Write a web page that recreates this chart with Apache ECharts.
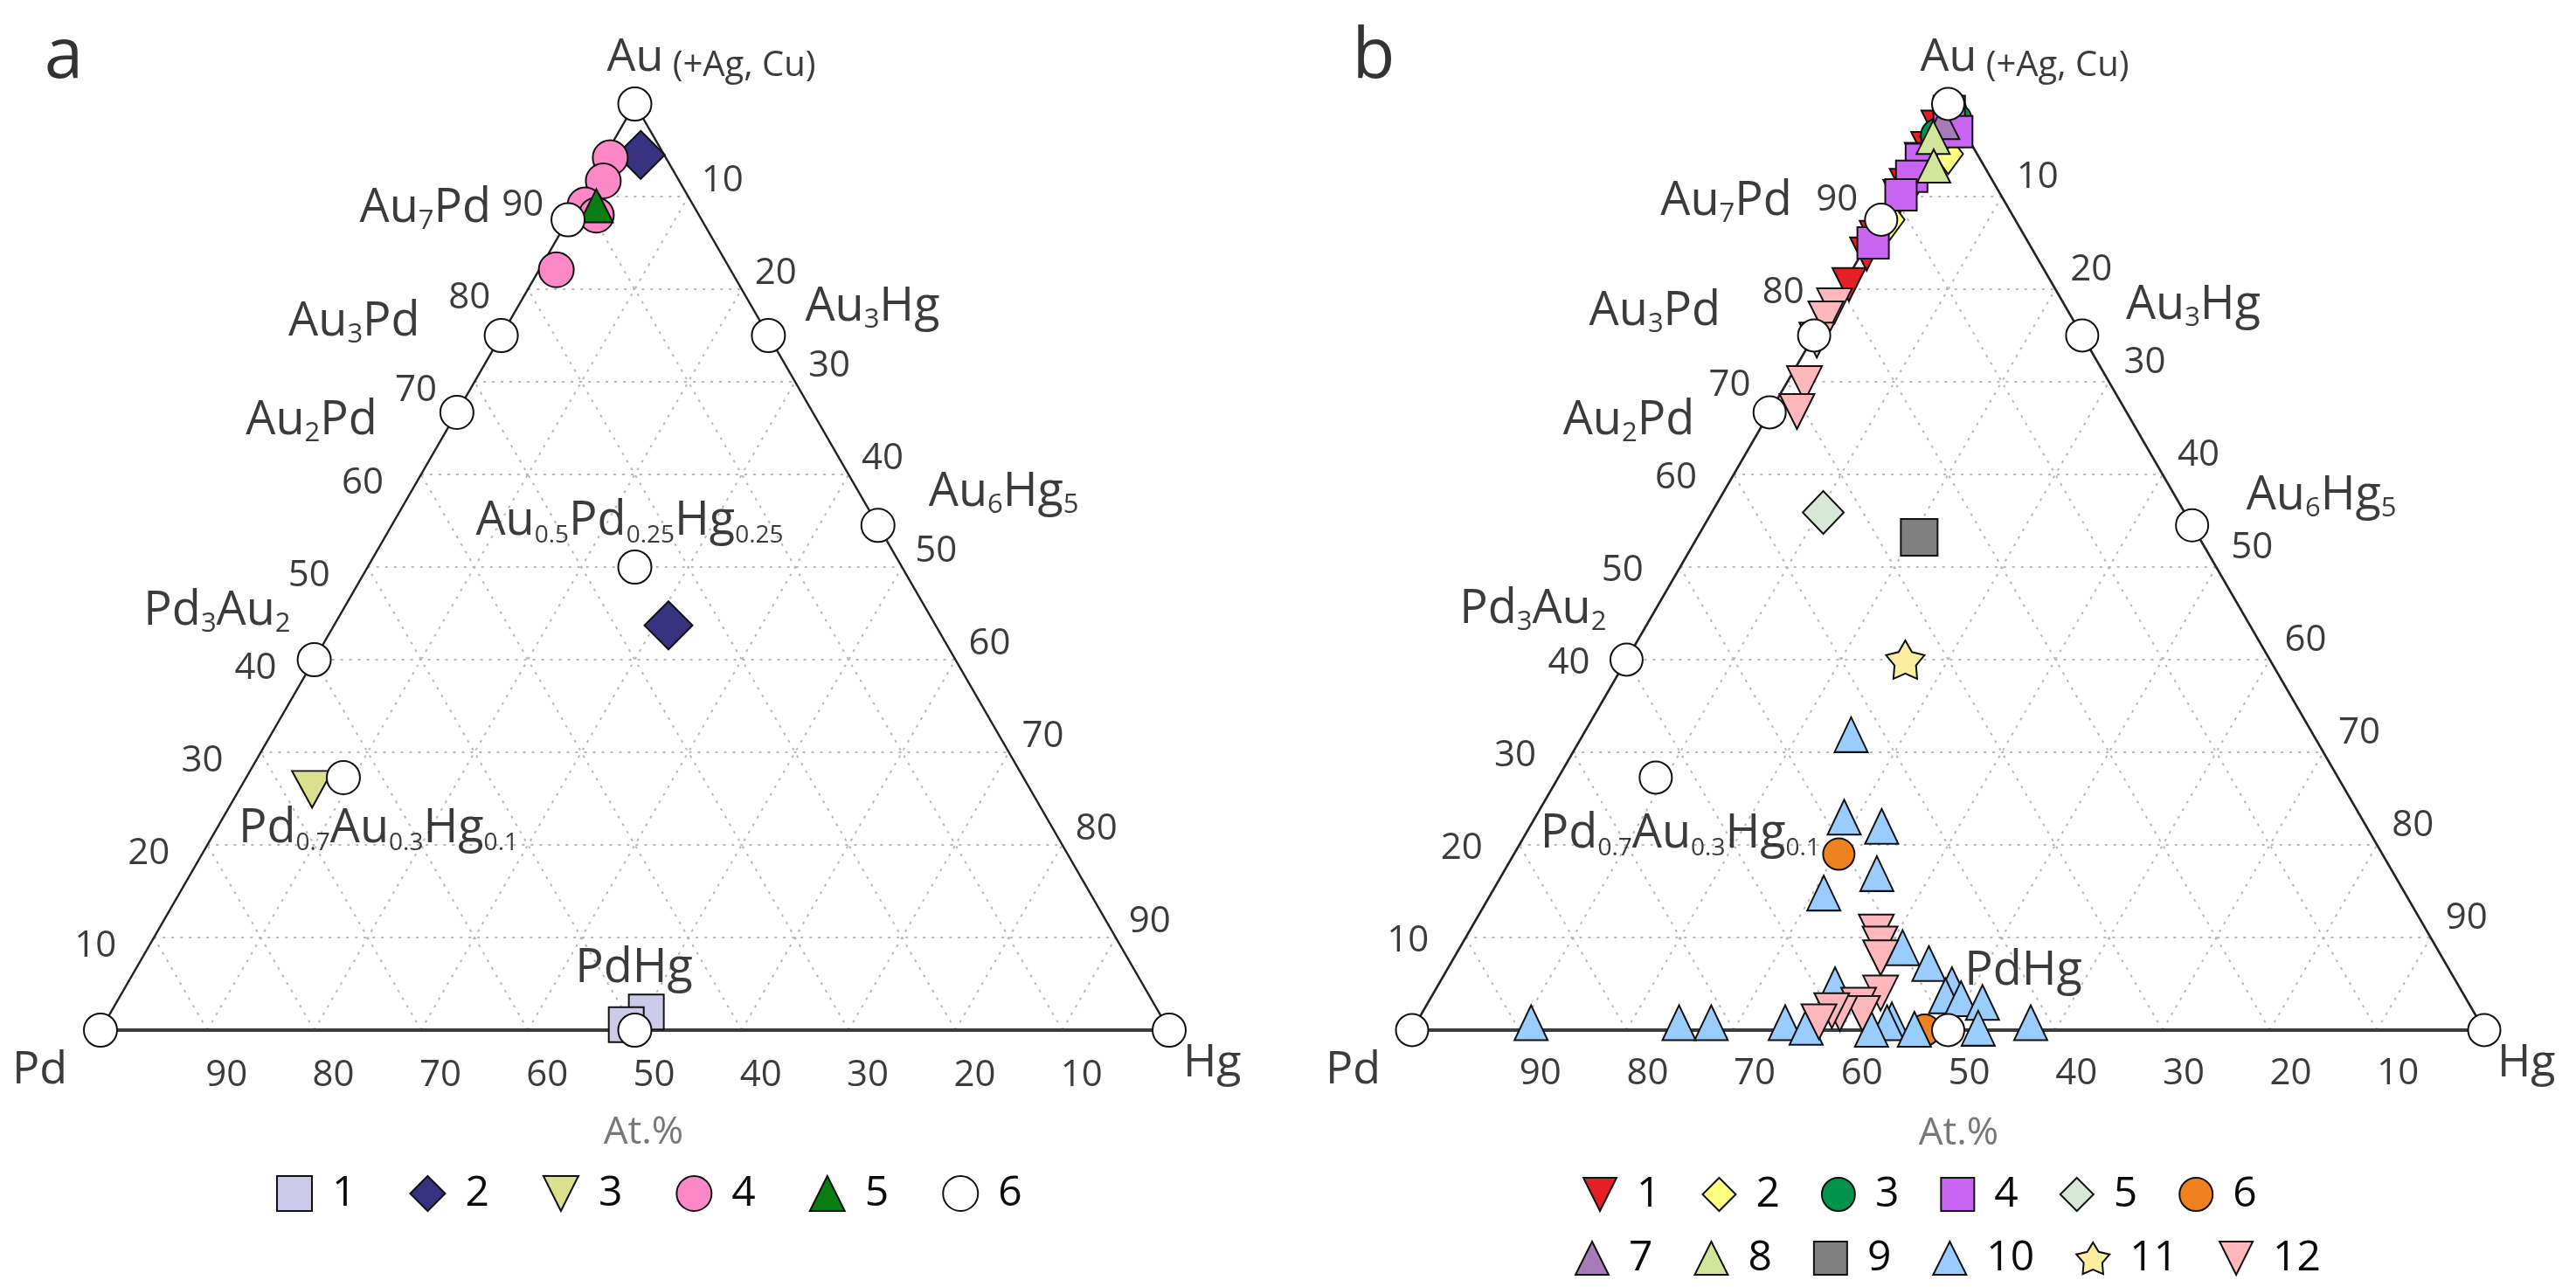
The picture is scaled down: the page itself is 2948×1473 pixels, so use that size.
<!DOCTYPE html>
<html><head><meta charset="utf-8">
<script src="https://cdn.jsdelivr.net/npm/echarts@6/dist/echarts.min.js"></script>
<style>html,body{margin:0;padding:0;background:#fff}#c{width:2948px;height:1473px}</style>
</head><body><div id="c"></div>
<script>
const FONT = '"Open Sans", Lato, "Noto Sans", sans-serif';
const TICKS = [10, 20, 30, 40, 50, 60, 70, 80, 90];

// compositions are [Au, Pd, Hg] in at.%
// ---- panel a ----
const a1 = [[1.95, 47.95, 50.1], [0.6, 50.5, 48.9]];
const a2 = [[94.5, 2.2, 3.3], [43.7, 25.0, 31.3]];
const a3 = [[26.0, 67.2, 6.8]];
const a4 = [[94.2, 5.2, 0.6], [91.7, 7.1, 1.2], [89.1, 10.1, 0.8], [88.0, 9.6, 2.4], [82.1, 16.3, 1.6]];
const a5 = [[89.0, 9.1, 1.9]];

// reference phases (white circles)
const phaseNames = ['Au', 'Au7Pd', 'Au3Pd', 'Au2Pd', 'Pd3Au2', 'Pd', 'Hg', 'Au3Hg', 'Au6Hg5', 'Au0.5Pd0.25Hg0.25', 'Pd0.7Au0.3Hg0.1', 'PdHg'];
const phaseComp = [[100, 0, 0], [87.5, 12.5, 0], [75, 25, 0], [66.7, 33.3, 0], [40, 60, 0], [0, 100, 0], [0, 0, 100], [75, 0, 25], [54.5, 0, 45.5], [50, 25, 25], [30, 70, 10], [0, 50, 50]];
const bPhaseNames = phaseNames.filter(n => n !== 'Au0.5Pd0.25Hg0.25');

// ---- panel b ----
const b1 = [[97.5, 2.2, 0.3], [95.2, 4.3, 0.5], [94.0, 5.5, 0.5], [91.2, 8.3, 0.5], [90.0, 9.5, 0.5], [85.6, 13.9, 0.5], [83.8, 15.7, 0.5], [80.5, 19.0, 0.5]];
const b2 = [[96.5, 3.0, 0.5], [94.6, 2.7, 2.7], [91.5, 7.7, 0.8], [87.5, 11.7, 0.8]];
const b3 = [[99.3, 0.2, 0.5], [98.3, 0.2, 1.5], [96.6, 2.7, 0.7]];
const b4 = [[99.2, 0.3, 0.5], [97.0, 0.7, 2.3], [94.0, 5.5, 0.5], [92.2, 7.3, 0.5], [90.2, 9.3, 0.5], [85.0, 14.5, 0.5]];
const b5 = [[55.9, 33.7, 10.4]];
const b6 = [[19.0, 50.7, 30.3], [0.0, 52.2, 47.8]];
const b7 = [[98.0, 1.5, 0.5]];
const b8 = [[96.4, 3.2, 0.4], [93.3, 4.7, 2.0]];
const b9 = [[53.2, 26.1, 20.7]];
const b10 = [[31.9, 43.1, 25.0], [23.0, 48.2, 28.8], [22.0, 45.2, 32.8], [16.9, 48.2, 34.9], [14.8, 54.2, 31.0],
  [0.8, 88.5, 10.7], [0.8, 74.7, 24.5], [0.8, 71.7, 27.5], [0.8, 64.8, 34.4], [0.3, 63.1, 36.6], [4.9, 58.1, 37.0],
  [8.9, 49.8, 41.3], [7.2, 48.2, 44.6], [4.9, 47.2, 47.9], [3.7, 48.4, 47.9], [3.4, 47.1, 49.5], [3.0, 45.3, 51.7],
  [1.1, 54.7, 44.2], [0.8, 55.3, 43.9], [0.1, 57.1, 42.8], [0.1, 53.1, 46.8], [0.2, 47.1, 52.7], [0.8, 41.9, 57.3]];
const b11 = [[40.0, 34.0, 26.0]];
const b12 = [[78.2, 21.5, 0.3], [76.8, 23.0, 0.2], [74.5, 25.0, 0.5], [69.8, 28.5, 1.7], [66.8, 30.7, 2.5],
  [10.6, 51.4, 38.0], [9.3, 51.7, 39.0], [7.8, 52.4, 39.8], [4.0, 54.3, 41.7], [2.7, 57.0, 40.3], [1.8, 57.1, 41.1],
  [1.8, 59.2, 39.0], [2.1, 59.8, 38.1], [0.9, 61.6, 37.5]];

// ternary -> cartesian (x = Hg + Au/2, y = Au), normalised
function xy(t) {
  const s = t[0] + t[1] + t[2];
  const au = t[0] / s * 100, hg = t[2] / s * 100;
  return [hg + au / 2, au];
}
function comp(name) { return phaseComp[phaseNames.indexOf(name)]; }

const DOWN = 'path://M0,0L20,0L10,20Z';
function starPath() {
  let p = '';
  for (let i = 0; i < 10; i++) {
    const r = i % 2 ? 0.56 : 1, ang = -Math.PI / 2 + i * Math.PI / 5;
    p += (i ? 'L' : 'M') + (50 + 50 * r * Math.cos(ang)).toFixed(1) + ',' + (50 + 50 * r * Math.sin(ang)).toFixed(1);
  }
  return 'path://' + p + 'Z';
}
const STAR = starPath();

function seg(d, p, q, kind) { const a = xy(p), b = xy(q); d.push([a[0], a[1], b[0], b[1], kind]); }
function frameData() {
  const d = [];
  TICKS.forEach(k => {
    seg(d, [k, 100 - k, 0], [k, 0, 100 - k], 0);
    seg(d, [0, 100 - k, k], [100 - k, 0, k], 0);
    seg(d, [0, k, 100 - k], [100 - k, k, 0], 0);
  });
  seg(d, [0, 100, 0], [100, 0, 0], 1);
  seg(d, [100, 0, 0], [0, 0, 100], 1);
  seg(d, [0, 100, 0], [0, 0, 100], 2);
  return d;
}
function frameSeries(i) {
  return {
    type: 'custom', xAxisIndex: i, yAxisIndex: i, silent: true, z: 1,
    dimensions: ['x1', 'y1', 'x2', 'y2', 'k'], encode: { x: [0, 2], y: [1, 3] },
    data: frameData(),
    renderItem(params, api) {
      const p1 = api.coord([api.value(0), api.value(1)]);
      const p2 = api.coord([api.value(2), api.value(3)]);
      const k = api.value(4);
      const style = k === 0 ? { stroke: '#b8b8b8', lineWidth: 2, lineDash: [3, 7] }
        : k === 1 ? { stroke: '#222', lineWidth: 2.5 } : { stroke: '#3c3c3c', lineWidth: 4 };
      return { type: 'line', shape: { x1: p1[0], y1: p1[1], x2: p2[0], y2: p2[1] }, style };
    }
  };
}

function tickSeries(i, off) {
  const d = [];
  TICKS.forEach(k => {
    d.push({ value: xy([k, 100 - k, 0]), label: { formatter: String(k), offset: off.L } });
    d.push({ value: xy([0, k, 100 - k]), label: { formatter: String(k), offset: off.B } });
    d.push({ value: xy([100 - k, 0, k]), label: { formatter: String(k), offset: off.R } });
  });
  d.push({ value: xy([0, 50, 50]), label: { formatter: 'At.%', offset: off.At, color: '#555', fontSize: 44 } });
  return {
    type: 'scatter', xAxisIndex: i, yAxisIndex: i, silent: true, z: 2,
    symbolSize: 1, itemStyle: { color: 'rgba(0,0,0,0)' },
    label: { show: true, position: 'inside', color: '#0a0a0a', fontSize: 42, fontFamily: FONT },
    data: d
  };
}

const RICH = {
  m: { fontSize: 54, lineHeight: 60, fontFamily: FONT, color: '#0a0a0a' },
  s: { fontSize: 31, lineHeight: 28, verticalAlign: 'bottom', fontFamily: FONT, color: '#0a0a0a' },
  t: { fontSize: 28, lineHeight: 26, verticalAlign: 'bottom', fontFamily: FONT, color: '#0a0a0a' },
  v: { fontSize: 52, lineHeight: 60, fontFamily: FONT, color: '#0a0a0a' },
  p: { fontSize: 40, lineHeight: 48, verticalAlign: 'bottom', fontFamily: FONT, color: '#0a0a0a' }
};
const LABELTEXT = {
  'Au': '{v|Au}{p| (+Ag, Cu)}', 'Pd': '{v|Pd}', 'Hg': '{v|Hg}',
  'Au7Pd': '{m|Au}{s|7}{m|Pd}', 'Au3Pd': '{m|Au}{s|3}{m|Pd}', 'Au2Pd': '{m|Au}{s|2}{m|Pd}',
  'Pd3Au2': '{m|Pd}{s|3}{m|Au}{s|2}', 'Au3Hg': '{m|Au}{s|3}{m|Hg}', 'Au6Hg5': '{m|Au}{s|6}{m|Hg}{s|5}',
  'Au0.5Pd0.25Hg0.25': '{m|Au}{t|0.5}{m|Pd}{t|0.25}{m|Hg}{t|0.25}',
  'Pd0.7Au0.3Hg0.1': '{m|Pd}{t|0.7}{m|Au}{t|0.3}{m|Hg}{t|0.1}', 'PdHg': '{m|PdHg}'
};
// [align, dx, dy] per panel
const LABEL_A = {
  'Au': ['left', -32, -53], 'Pd': ['right', -38, 46], 'Hg': ['left', 16, 38],
  'Au7Pd': ['right', -88, -13], 'Au3Pd': ['right', -93, -15], 'Au2Pd': ['right', -91, 10],
  'Pd3Au2': ['right', -27, -55], 'Au3Hg': ['left', 42, -32], 'Au6Hg5': ['left', 58, -38],
  'Au0.5Pd0.25Hg0.25': ['center', -6, -52], 'Pd0.7Au0.3Hg0.1': ['left', -120, 59], 'PdHg': ['center', -1, -70]
};
const LABEL_B = {
  'Au': ['left', -32, -53], 'Pd': ['right', -36, 46], 'Hg': ['left', 15, 38],
  'Au7Pd': ['right', -102, -21], 'Au3Pd': ['right', -107, -27], 'Au2Pd': ['right', -86, 10],
  'Pd3Au2': ['right', -23, -57], 'Au3Hg': ['left', 50, -34], 'Au6Hg5': ['left', 62, -34],
  'Pd0.7Au0.3Hg0.1': ['left', -132, 65], 'PdHg': ['center', 86, -67]
};
function labelSeries(i, names, pos) {
  return {
    type: 'scatter', xAxisIndex: i, yAxisIndex: i, silent: true, z: 2,
    symbolSize: 1, itemStyle: { color: 'rgba(0,0,0,0)' },
    label: { show: true, position: 'inside', rich: RICH },
    data: names.map(n => ({
      value: xy(comp(n)),
      label: { formatter: LABELTEXT[n], align: pos[n][0], verticalAlign: 'middle', offset: [pos[n][1], pos[n][2]] }
    }))
  };
}

function mk(name, data, symbol, size, color, i) {
  return {
    type: 'scatter', name, xAxisIndex: i, yAxisIndex: i, silent: true, z: 3,
    data: data.map(xy), symbol, symbolSize: size,
    itemStyle: { color, borderColor: '#111', borderWidth: 2, opacity: 1 }
  };
}

const aSeries = [
  mk('a1', a1, 'rect', 40, '#cbcbe9', 0),
  mk('a2', a2, 'diamond', 55, '#36327f', 0),
  mk('a3', a3, DOWN, [46, 42], '#dbe08d', 0),
  mk('a4', a4, 'circle', 40, '#fc88c8', 0),
  mk('a5', a5, 'triangle', 38, '#0a7d12', 0),
  mk('a6', phaseNames.map(comp), 'circle', 38, '#ffffff', 0)
];
const bSeries = [
  mk('b1', b1, DOWN, 38, '#e61f27', 1),
  mk('b2', b2, 'diamond', [34, 46], '#ffff80', 1),
  mk('b3', b3, 'circle', 38, '#00944a', 1),
  mk('b4', b4, 'rect', 36, '#c965f2', 1),
  mk('b5', b5, 'diamond', [47, 49], '#d6e8d6', 1),
  mk('b6', b6, 'circle', 36, '#ef821f', 1),
  mk('b7', b7, 'triangle', 38, '#a67bb8', 1),
  mk('b8', b8, 'triangle', 38, '#d2e69b', 1),
  mk('b9', b9, 'rect', 42, '#808080', 1),
  mk('b10', b10, 'triangle', [38, 40], '#99ccff', 1),
  mk('b11', b11, STAR, 44, '#fcee9f', 1),
  mk('b12', b12, DOWN, 40, '#ffb7bb', 1),
  mk('bref', bPhaseNames.map(comp), 'circle', 37, '#ffffff', 1)
];

function legendCfg(names, left, top, size, gap, tw) {
  return {
    data: names, left, top, orient: 'horizontal', itemWidth: size, itemHeight: size, itemGap: gap,
    selectedMode: false, formatter: n => n.slice(1),
    itemStyle: { borderColor: '#111', borderWidth: 2 },
    textStyle: { fontSize: 48, fontFamily: FONT, color: '#0a0a0a', width: tw, padding: [0, 0, 0, 18] }
  };
}

const chart = echarts.init(document.getElementById('c'));
chart.setOption({
  backgroundColor: '#ffffff',
  animation: false,
  grid: [
    { left: 115, top: 119, width: 1223, height: 1060 },
    { left: 1616, top: 119, width: 1227, height: 1060 }
  ],
  xAxis: [0, 1].map(i => ({ type: 'value', gridIndex: i, min: 0, max: 100, show: false })),
  yAxis: [0, 1].map(i => ({ type: 'value', gridIndex: i, min: 0, max: 100, show: false })),
  legend: [
    legendCfg(['a1', 'a2', 'a3', 'a4', 'a5', 'a6'], 311, 1337, 40, 61, 45),
    legendCfg(['b1', 'b2', 'b3', 'b4', 'b5', 'b6'], 1806, 1338, 38, 47, 58),
    legendCfg(['b7', 'b8', 'b9', 'b10', 'b11', 'b12'], 1797, 1411, 38, 47, 58)
  ],
  graphic: [
    { type: 'text', x: 73, y: 66, style: { text: 'a', font: '80px ' + FONT, fill: '#333', align: 'center', verticalAlign: 'middle', textAlign: 'center', textVerticalAlign: 'middle' } },
    { type: 'text', x: 1572, y: 66, style: { text: 'b', font: '80px ' + FONT, fill: '#333', align: 'center', verticalAlign: 'middle', textAlign: 'center', textVerticalAlign: 'middle' } }
  ],
  series: [
    frameSeries(0), frameSeries(1),
    tickSeries(0, { L: [-67, 10], B: [22, 52], R: [39, -18], At: [10, 117] }),
    tickSeries(1, { L: [-66, 4], B: [24, 50], R: [41, -22], At: [12, 118] }),
    labelSeries(0, phaseNames, LABEL_A),
    labelSeries(1, bPhaseNames, LABEL_B),
    ...aSeries, ...bSeries
  ]
});
</script></body></html>
